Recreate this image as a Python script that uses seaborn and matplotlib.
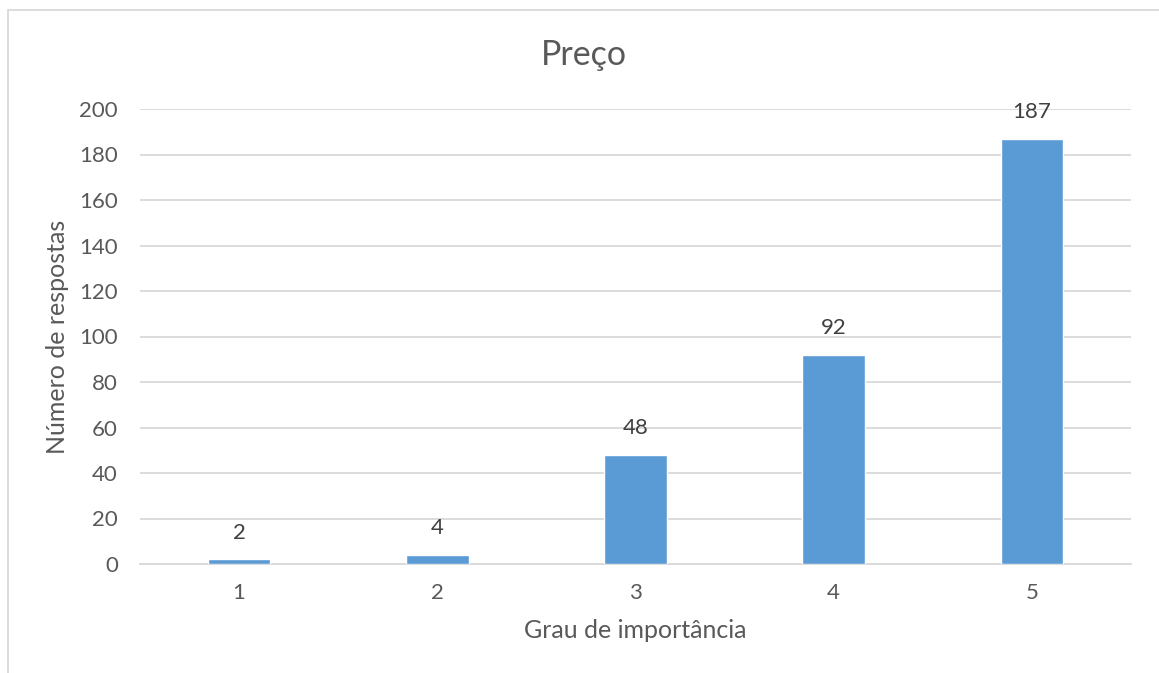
import matplotlib
matplotlib.use("Agg")
import matplotlib.pyplot as plt
from matplotlib.patches import Rectangle
import seaborn as sns
import pandas as pd

# Survey results: importance rating of price
categories = ["1", "2", "3", "4", "5"]
counts = [2, 4, 48, 92, 187]
y_ticks = [0, 20, 40, 60, 80, 100, 120, 140, 160, 180, 200]

title = "Preço"
x_title = "Grau de importância"
y_title = "Número de respostas"

sns.set_theme(style="white")
plt.rcParams["font.family"] = ["Lato", "DejaVu Sans"]

text_color = "#595959"
grid_color = "#D9D9D9"
bar_color = "#5B9BD5"

fig = plt.figure(figsize=(11.59, 6.73), dpi=100)
ax = fig.add_axes([140 / 1159, 1 - 564 / 673, (1131 - 140) / 1159, (564 - 109) / 673])

df = pd.DataFrame({"grau": categories, "respostas": counts})
sns.barplot(data=df, x="grau", y="respostas", color=bar_color, saturation=1,
            width=0.315, ax=ax, zorder=3)

ax.set_ylim(0, 200)
ax.set_yticks(y_ticks)
ax.set_xlim(-0.5, len(categories) - 0.5)
ax.yaxis.grid(True, color=grid_color, linewidth=1.3, zorder=0)
ax.xaxis.grid(False)
for side in ["top", "right", "left"]:
    ax.spines[side].set_visible(False)
ax.spines["bottom"].set_color(grid_color)
ax.spines["bottom"].set_linewidth(1.3)
ax.tick_params(axis="both", length=0, labelsize=16, labelcolor=text_color)
ax.tick_params(axis="x", pad=14)
ax.tick_params(axis="y", pad=16)

for container in ax.containers:
    ax.bar_label(container, labels=[str(v) for v in counts], padding=12,
                 fontsize=16, color="#404040")

ax.set_xlabel(x_title, fontsize=18, color=text_color, labelpad=11)
ax.set_ylabel(y_title, fontsize=18, color=text_color, labelpad=7)
fig.text(584 / 1159, 1 - 55 / 673, title, ha="center", va="center",
         fontsize=24.5, color=text_color)

# Light frame around the chart area
fig.patches.append(Rectangle((8 / 1159, -0.05), 1.1, 1 - 10 / 673 + 0.05,
                             transform=fig.transFigure, fill=False,
                             edgecolor=grid_color, linewidth=1.3))

fig.savefig("out.png", dpi=100)
